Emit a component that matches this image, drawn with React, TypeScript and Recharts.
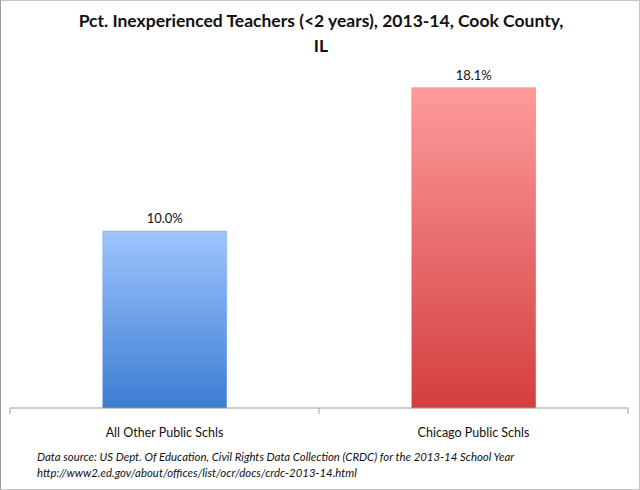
import React from "react";
import { BarChart, Bar, XAxis, YAxis, LabelList } from "recharts";

const categories = ["All Other Public Schls", "Chicago Public Schls"];
const values = [10.0, 18.1];
const edgeTicks = [0, 1, 2];
const gradients = [
  { id: "blueFade", top: "#9fc5fc", bottom: "#3b7dd3" },
  { id: "redFade", top: "#fd9b9b", bottom: "#d43e3e" },
];

const FONT = "Lato, 'Open Sans', 'Liberation Sans', sans-serif";

const data = categories.map((name, i) => ({ name, pct: values[i], edge: i }));

function BarShape(props: any) {
  const { x, y, width, height, index } = props;
  const g = gradients[index];
  return (
    <rect
      x={x}
      y={y}
      width={width}
      height={height}
      fill={`url(#${g.id})`}
      stroke={g.bottom}
      strokeOpacity={0.25}
      strokeWidth={1}
    />
  );
}

const NoLabel = () => <g />;

export default function App() {
  return (
    <div
      style={{
        position: "absolute",
        left: 0,
        top: 0,
        width: 640,
        height: 490,
        boxSizing: "border-box",
        border: "1px solid #c4c4c4",
        borderLeftColor: "#9a9a9a",
        background: "#fff",
        fontFamily: FONT,
      }}
    >
      <div
        style={{
          position: "absolute",
          left: 0,
          top: 7,
          width: 640,
          textAlign: "center",
          fontWeight: 700,
          fontSize: 17.5,
          lineHeight: "25px",
          color: "#111",
        }}
      >
        Pct. Inexperienced Teachers (&lt;2 years), 2013-14, Cook County,
        <br />
        IL
      </div>
      <div style={{ position: "absolute", left: -1, top: -1 }}>
        <BarChart
          width={640}
          height={490}
          data={data}
          margin={{ top: 54, right: 12, bottom: 0, left: 10 }}
          barCategoryGap="30%"
        >
          <defs>
            {gradients.map((g) => (
              <linearGradient key={g.id} id={g.id} x1="0" y1="0" x2="0" y2="1">
                <stop offset="0%" stopColor={g.top} />
                <stop offset="100%" stopColor={g.bottom} />
              </linearGradient>
            ))}
          </defs>
          <YAxis hide domain={[0, 20]} />
          <XAxis
            xAxisId="a-edge"
            dataKey="edge"
            type="number"
            domain={[0, 2]}
            ticks={edgeTicks}
            allowDataOverflow
            interval={0}
            tick={NoLabel}
            tickSize={6}
            height={6}
            axisLine={{ stroke: "#9c9c9c" }}
            tickLine={{ stroke: "#9c9c9c" }}
          />
          <XAxis
            xAxisId="b-cat"
            dataKey="name"
            axisLine={false}
            tickLine={false}
            height={76}
            dy={6}
            tick={{ fill: "#111", fontSize: 12.5, fontFamily: FONT }}
          />
          <Bar
            xAxisId="b-cat"
            dataKey="pct"
            isAnimationActive={false}
            shape={BarShape}
          >
            <LabelList
              dataKey="pct"
              position="top"
              offset={8}
              formatter={(v: any) => `${Number(v).toFixed(1)}%`}
              style={{ fill: "#111", fontSize: 13, fontFamily: FONT }}
            />
          </Bar>
        </BarChart>
      </div>
      <div
        style={{
          position: "absolute",
          left: 36,
          top: 448,
          fontStyle: "italic",
          fontSize: 11.4,
          lineHeight: "15.5px",
          color: "#111",
        }}
      >
        Data source: US Dept. Of Education, Civil Rights Data Collection (CRDC) for the 2013-14 School Year
        <br />
        http://www2.ed.gov/about/offices/list/ocr/docs/crdc-2013-14.html
      </div>
    </div>
  );
}
